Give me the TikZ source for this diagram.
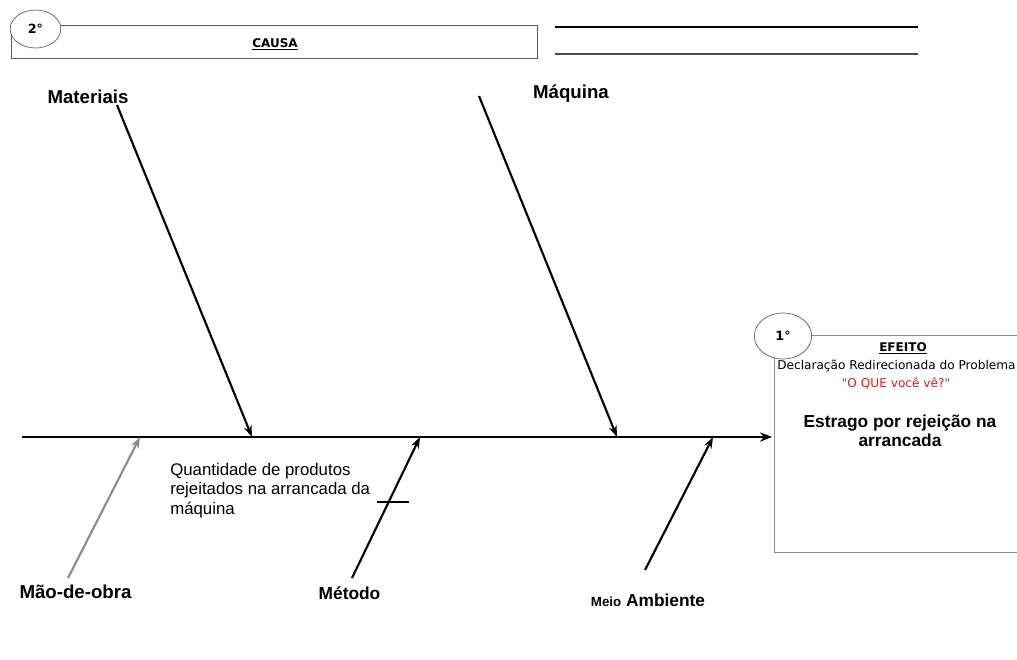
\documentclass[tikz,border=0pt]{standalone}
\usepackage{fontspec}
\setmainfont{Liberation Sans}
\newfontfamily\handfont{DejaVu Sans}
\usetikzlibrary{arrows.meta,shapes.geometric}
\definecolor{frame}{RGB}{90,90,90}
\definecolor{qred}{RGB}{225,25,25}
\begin{document}
\begin{tikzpicture}[x=0.75pt,y=-0.75pt,
  spineline/.style={line width=2.2pt,-{Stealth[length=9pt,width=7pt]}},
  bone/.style={line width=1.6pt,-{Stealth[length=8.5pt,width=6pt]}},
  catlabel/.style={font=\bfseries\fontsize{14}{16}\selectfont,inner sep=0pt},
  handtext/.style={font=\handfont\fontsize{9.1}{11}\selectfont,inner sep=0pt},
  badge/.style={ellipse,draw=frame,line width=0.5pt,fill=white,inner sep=0pt,
    font=\handfont\bfseries\fontsize{9.5}{11}\selectfont}]
\useasboundingbox (0,0) rectangle (1017,660);

% header: cause box with its badge, and two ruled lines
\draw[frame,line width=0.6pt] (11,25) rectangle (537,58);
\node[badge,minimum width=38pt,minimum height=28.5pt] (two) at (35.5,29) {2°};
\node[handtext,font=\handfont\bfseries\fontsize{9}{10}\selectfont] (causa) at (275,44) {\underline{CAUSA}};
\coordinate (l1a) at (555,27); \coordinate (l1b) at (918,27);
\coordinate (l2a) at (555,54); \coordinate (l2b) at (918,54);
\draw[line width=1.1pt] (l1a) -- (l1b);
\draw[line width=1.1pt,black!70] (l2a) -- (l2b);

% effect box
\draw[black!45,line width=0.6pt] (1030,335) -- (774,335) -- (774,552) -- (1030,552);
\node[badge,minimum width=43pt,minimum height=34.5pt] (one) at (783,336) {1°};
\node[handtext,font=\handfont\bfseries\fontsize{9}{10}\selectfont] (efeito) at (903,348) {\underline{EFEITO}};
\node[handtext,anchor=west] (decl) at (777,366) {Declaração Redirecionada do Problema};
\node[handtext,text=qred] (oque) at (896,383) {"O QUE você vê?"};
\node[font=\bfseries\fontsize{13}{14}\selectfont,align=center,inner sep=0pt] (effect) at (900,431)
  {Estrago por rejeição na\\arrancada};

% spine
\coordinate (tail) at (22,437);
\coordinate (head) at (772,437);
\draw[spineline] (tail) -- (head);

% spine attachment points
\coordinate (pmat) at (252,437);
\coordinate (pmaq) at (617,437);
\coordinate (pmao) at (140,437);
\coordinate (pmet) at (420,437);
\coordinate (pmei) at (713,437);

% bone start points
\coordinate (smat) at (117,105);
\coordinate (smaq) at (479,96);
\coordinate (smao) at (68,578);
\coordinate (smet) at (352,578);
\coordinate (smei) at (645,570);

\draw[bone] (smat) -- (pmat);
\draw[bone] (smaq) -- (pmaq);
\draw[bone,black!45] (smao) -- (pmao);
\draw[bone] (smet) -- (pmet);
\draw[bone] (smei) -- (pmei);

% sub-cause tick on the method bone
\coordinate (tka) at (377,502);
\coordinate (tkb) at (409,502);
\draw[line width=1.1pt] (tka) -- (tkb);

% category labels
\node[catlabel] (mat) at (88,97) {Materiais};
\node[catlabel] (maq) at (571,94) {Máquina};
\node[catlabel] (mao) at (75.5,592) {Mão-de-obra};
\node[catlabel,font=\bfseries\fontsize{13}{15}\selectfont] (met) at (349.5,593) {Método};
\node[catlabel,font=\bfseries\fontsize{13}{15}\selectfont] (mei) at (648,600) {{\fontsize{10}{12}\selectfont Meio} Ambiente};

% sub-cause text
\node[font=\fontsize{12.6}{14.6}\selectfont,align=left,anchor=north west,inner sep=0pt] (sub) at (170,463)
  {Quantidade de produtos\\rejeitados na arrancada da\\máquina};
\end{tikzpicture}
\end{document}
